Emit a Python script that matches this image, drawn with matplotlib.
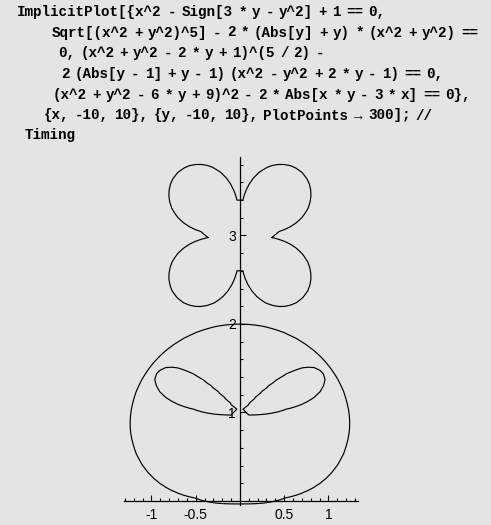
import warnings
import numpy as np
import matplotlib
matplotlib.use('Agg')
import matplotlib.pyplot as plt

# input cell text (Mathematica notebook), one entry per line with its left edge in px
code_lines = [
    'ImplicitPlot[{x^2 - Sign[3 * y - y^2] + 1 == 0,',
    'Sqrt[(x^2 + y^2)^5] - 2 * (Abs[y] + y) * (x^2 + y^2) ==',
    '0, (x^2 + y^2 - 2 * y + 1)^(5 / 2) -',
    '2 (Abs[y - 1] + y - 1) (x^2 - y^2 + 2 * y - 1) == 0,',
    '(x^2 + y^2 - 6 * y + 9)^2 - 2 * Abs[x * y - 3 * x] == 0},',
    '{x, -10, 10}, {y, -10, 10}, PlotPoints \u2192 300]; //',
    'Timing',
]
code_x = [17, 52, 58, 61, 53, 44, 25]
code_y = [12, 32.5, 53, 74, 95, 115.5, 135]

# the four implicit equations, f(x, y) == 0
equations = [
    lambda x, y: x**2 - np.sign(3*y - y**2) + 1,
    lambda x, y: np.sqrt((x**2 + y**2)**5) - 2*(np.abs(y) + y)*(x**2 + y**2),
    lambda x, y: (x**2 + y**2 - 2*y + 1)**2.5
                 - 2*(np.abs(y - 1) + y - 1)*(x**2 - y**2 + 2*y - 1),
    lambda x, y: (x**2 + y**2 - 6*y + 9)**2 - 2*np.abs(x*y - 3*x),
]
x_range = (-10, 10)
y_range = (-10, 10)
plot_points = 300

xtick_major = [-1, -0.5, 0.5, 1]
xtick_labels = ['-1', '-0.5', '0.5', '1']
ytick_major = [1, 2, 3]
ytick_labels = ['1', '2', '3']

bg = '#e6e2e6'
W, H = 491, 525

fig = plt.figure(figsize=(W/100, H/100), dpi=100)
fig.patch.set_facecolor(bg)

# code text: monospace bold, narrow spaces like the notebook front end
cw, sw = 8.6, 5.0
mono = ['Liberation Mono', 'DejaVu Sans Mono']
for line, x0, y0 in zip(code_lines, code_x, code_y):
    pos = x0
    for tok in line.split(' '):
        fig.text(pos/W, 1 - y0/H, tok, family=mono, fontweight='bold',
                 fontsize=10.3, va='center', ha='left')
        pos += len(tok)*cw + sw

# plot
ax = fig.add_axes([124/W, 1 - 505.4/H, 233.6/W, 348.7/H])
ax.set_facecolor(bg)
ax.set_xlim(-1.31, 1.33)
ax.set_ylim(-0.05, 3.89)

xs = np.linspace(x_range[0], x_range[1], plot_points)
ys = np.linspace(y_range[0], y_range[1], plot_points)
X, Y = np.meshgrid(xs, ys)
with warnings.catch_warnings():
    warnings.simplefilter('ignore')
    for f in equations:
        F = f(X, Y)
        if np.nanmin(F) < 0 < np.nanmax(F):
            ax.contour(X, Y, F, levels=[0], colors='black', linewidths=0.85)

for s in ['top', 'right']:
    ax.spines[s].set_visible(False)
ax.spines['left'].set_position(('data', 0))
ax.spines['bottom'].set_position(('data', 0))
for s in ['left', 'bottom']:
    ax.spines[s].set_linewidth(0.9)

ax.set_xticks(xtick_major)
ax.set_xticklabels(xtick_labels)
ax.set_xticks(np.round(np.arange(-1.3, 1.31, 0.1), 2), minor=True)
ax.set_yticks(ytick_major)
ax.set_yticklabels(ytick_labels)
ax.set_yticks(np.round(np.arange(0.2, 3.81, 0.2), 2), minor=True)

ax.tick_params(which='both', direction='in', width=0.8, labelsize=10,
               colors='black')
ax.tick_params(which='major', length=4)
ax.tick_params(which='minor', length=2.2)
ax.tick_params(axis='x', pad=5)
ax.tick_params(axis='y', pad=3)
for lab in ax.get_xticklabels() + ax.get_yticklabels():
    lab.set_family(['Liberation Sans', 'DejaVu Sans'])

fig.savefig('out.png', dpi=100, facecolor=bg)
